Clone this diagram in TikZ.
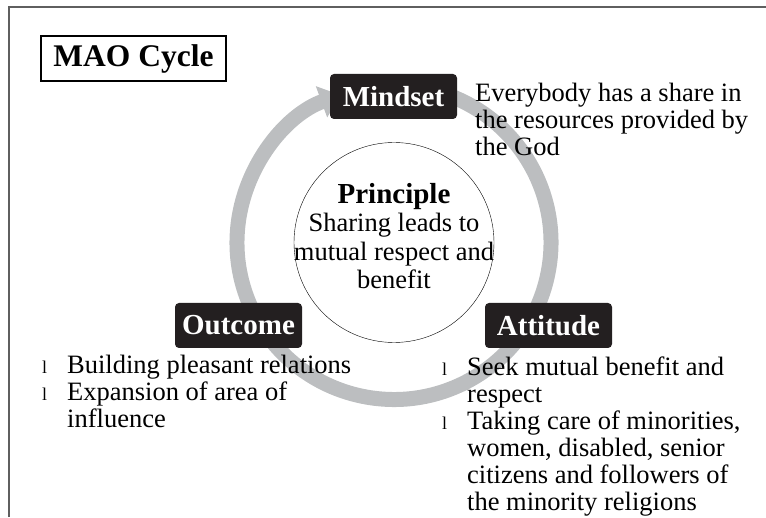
\documentclass[tikz,border=0pt]{standalone}
\usepackage{fontspec}
\setmainfont{Liberation Serif}
\usetikzlibrary{arrows.meta}
\definecolor{boxblack}{HTML}{231F20}
\definecolor{ringgray}{HTML}{BCBEC0}
\definecolor{framegray}{HTML}{5F5F5F}
\newcommand{\bul}{\makebox[25pt][l]{\fontsize{18}{18}\selectfont l}}
\newcommand{\ind}{\makebox[25pt]{}}

\begin{document}
\begin{tikzpicture}[x=1pt,y=1pt,
    stage/.style={fill=boxblack, rounded corners=4pt, text=white,
      font=\fontsize{29}{30}\selectfont\bfseries,
      minimum width=127pt, minimum height=45pt, inner sep=0pt},
    desc/.style={align=left, inner sep=0pt, anchor=north west,
      font=\fontsize{26.5}{27}\selectfont},
    ring/.style={line width=15pt, ringgray, -{Triangle[length=20pt,width=32pt]}}]
    \useasboundingbox (0,0) rectangle (766,517);
    % frame
    \draw[framegray, line width=2pt] (9,0) -- (9,510) -- (766,510);
    \node[draw, line width=2pt, minimum width=185pt, minimum height=45pt, inner sep=0pt,
      font=\fontsize{31.5}{32}\selectfont\bfseries] (title) at (133.5,458.5) {MAO Cycle};
    % cycle
    \coordinate (mid) at (394,274.5);
    \draw[ring] ([shift={(80:157)}]mid) arc[start angle=80, end angle=-250, radius=157];
    \node[draw, circle, minimum size=200pt, inner sep=0pt] (prin) at (mid) {};
    \node[align=center, anchor=north, inner sep=0pt, font=\fontsize{26.5}{28.5}\selectfont]
      (printext) at (394,334) {{\fontsize{29}{29}\selectfont\bfseries Principle}\\ Sharing leads to\\ mutual respect and\\ benefit};
    \node[stage] (mind) at (393.5,420.5) {Mindset};
    \node[stage] (att) at (548.5,191.5) {Attitude};
    \node[stage] (out) at (238.5,191.5) {Outcome};
    % texts
    \node[desc] (minddesc) at (475,433.6) {Everybody has a share in\\ the resources provided by\\ the God};
    \node[desc] (attdesc) at (442,160.6) {\bul Seek mutual benefit and\\ \ind respect\\ \bul Taking care of minorities,\\ \ind women, disabled, senior\\ \ind citizens and followers of\\ \ind the minority religions};
    \node[desc] (outdesc) at (42,161.6) {\bul Building pleasant relations\\ \bul Expansion of area of\\ \ind influence};
\end{tikzpicture}
\end{document}
